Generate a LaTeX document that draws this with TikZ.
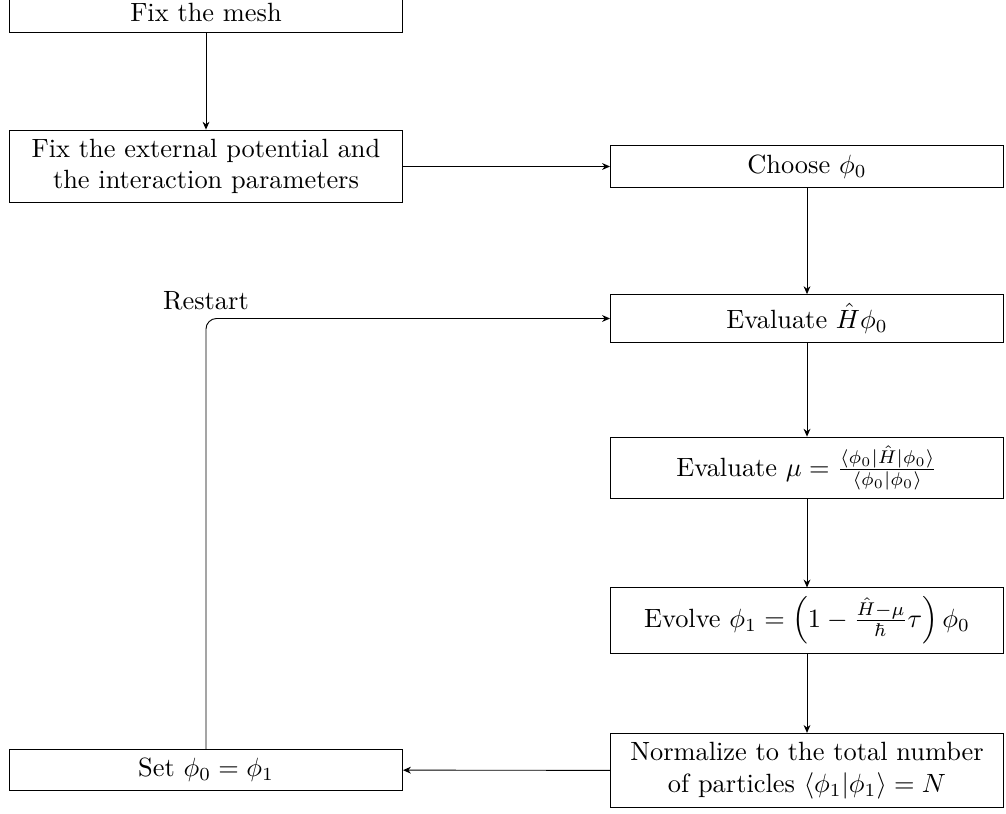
\documentclass[tikz,border=0pt]{standalone}
\usepackage{amsmath}
\usetikzlibrary{arrows.meta}
\begin{document}
\begin{tikzpicture}[x=0.013320cm,y=-0.013320cm,
  box/.style={draw,text width=5cm,execute at begin node=\centering,minimum height=0.53cm,inner sep=0.333em},
  conn/.style={-{Stealth[length=3pt,width=2.6pt]},line width=0.35pt}]
\useasboundingbox (0,0) rectangle (1006,814);
\node[box] (mesh) at (206,13) {Fix the mesh};
\node[box] (ext) at (206,166.5) {Fix the external potential and the interaction parameters};
\node[box] (choose) at (807,166.5) {Choose $\phi_0$};
\node[box] (evalH) at (807,318.5) {Evaluate $\hat{H}\phi_0$};
\node[box] (evalmu) at (807,468) {Evaluate $\mu=\frac{\langle\phi_0|\hat{H}|\phi_0\rangle}{\langle\phi_0|\phi_0\rangle}$};
\node[box] (evolve) at (807,620.5) {Evolve $\phi_1=\left(1-\frac{\hat{H}-\mu}{\hbar}\tau\right)\phi_0$};
\node[box] (norm) at (807,770.5) {Normalize to the total number of particles $\langle\phi_1|\phi_1\rangle=N$};
\node[box] (set) at (206,770) {Set $\phi_0=\phi_1$};
\coordinate (corner) at (206,318.5);
\draw[conn] (mesh) -- (ext);
\draw[conn] (ext) -- (choose);
\draw[conn] (choose) -- (evalH);
\draw[conn] (evalH) -- (evalmu);
\draw[conn] (evalmu) -- (evolve);
\draw[conn] (evolve) -- (norm);
\draw[conn] (norm) -- (set);
\draw[conn,rounded corners=4pt] (set.north) -- (corner) -- (evalH.west);
\node[anchor=south,inner sep=3pt] (restart) at (corner) {Restart};
\end{tikzpicture}
\end{document}
